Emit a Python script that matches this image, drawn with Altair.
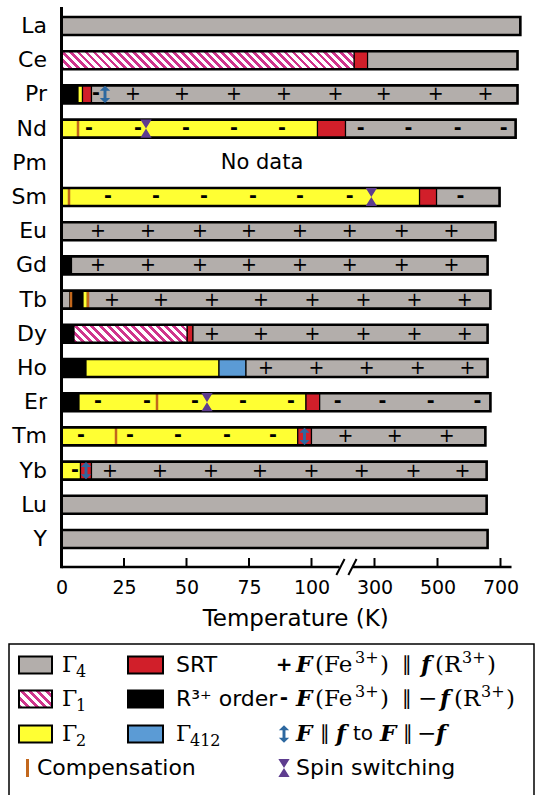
import altair as alt
import pandas as pd

# ---------------- data ----------------
elements = ["La", "Ce", "Pr", "Nd", "Pm", "Sm", "Eu", "Gd", "Tb", "Dy",
            "Ho", "Er", "Tm", "Yb", "Lu", "Y"]

seg_element = ["La",
               "Ce", "Ce", "Ce",
               "Pr", "Pr", "Pr", "Pr",
               "Nd", "Nd", "Nd",
               "Sm", "Sm", "Sm",
               "Eu",
               "Gd", "Gd",
               "Tb", "Tb", "Tb", "Tb",
               "Dy", "Dy", "Dy", "Dy",
               "Ho", "Ho", "Ho", "Ho",
               "Er", "Er", "Er", "Er",
               "Tm", "Tm", "Tm",
               "Yb", "Yb", "Yb",
               "Lu",
               "Y"]
seg_start = [0,
             0, 235, 278,
             0, 6.6, 8.4, 12,
             0, 119, 208,
             0, 443, 497,
             0,
             0, 4,
             0, 3.4, 8.6, 10.4,
             0, 5, 50.2, 52.6,
             0, 9.8, 63, 73.8,
             0, 7, 97.8, 126,
             0, 94.5, 100,
             0, 7.6, 12,
             0,
             0]
seg_end = [763,
           235, 278, 754,
           6.6, 8.4, 12, 754,
           119, 208, 748,
           443, 497, 697,
           684,
           4, 659,
           3.4, 8.6, 10.4, 668,
           5, 50.2, 52.6, 659,
           9.8, 63, 73.8, 659,
           7, 97.8, 126, 668,
           94.5, 100, 652,
           7.6, 12, 656,
           656,
           659]
seg_phase = ["G4",
             "G1", "SRT", "G4",
             "R", "G2", "SRT", "G4",
             "G2", "SRT", "G4",
             "G2", "SRT", "G4",
             "G4",
             "R", "G4",
             "G4", "R", "G2", "G4",
             "R", "G1", "SRT", "G4",
             "R", "G2", "G412", "G4",
             "R", "G2", "SRT", "G4",
             "G2", "SRT", "G4",
             "G2", "SRT", "G4",
             "G4",
             "G4"]

plus_element = (["Pr"] * 8 + ["Eu"] * 8 + ["Gd"] * 8 + ["Tb"] * 8 + ["Dy"] * 6
                + ["Ho"] * 5 + ["Tm"] * 3 + ["Yb"] * 8)
plus_T = ([28.6, 48.2, 69, 89, 176, 329, 494, 652]
          + [14.6, 34.6, 55.4, 75, 95.4, 221, 386, 544]
          + [14.6, 34.6, 55.4, 75, 95.4, 221, 386, 544]
          + [20.2, 39.8, 60.2, 79.8, 103, 265, 427, 586]
          + [60.2, 79.8, 103, 265, 427, 586]
          + [81.8, 116, 275, 437, 595]
          + [208, 364, 529]
          + [19.4, 39.4, 59.8, 79.4, 100, 259, 424, 579])

minus_element = (["Pr"] + ["Nd"] * 9 + ["Sm"] * 7 + ["Er"] * 9 + ["Tm"] * 5 + ["Yb"])
minus_T = ([13.8]
           + [11, 30.6, 49.8, 69, 88.2, 256, 408, 564, 710]
           + [18.6, 37.8, 57, 76.6, 95.4, 221, 573]
           + [14.6, 34.2, 53.4, 72.6, 91.8, 183, 325, 478, 627]
           + [7.8, 27.4, 46.6, 66.2, 84.6]
           + [5.4])

comp_element = ["Nd", "Sm", "Tb", "Tb", "Er", "Tm"]
comp_T = [6.6, 3.0, 3.8, 10.6, 38.2, 21.8]

switch_element = ["Nd", "Sm", "Er"]
switch_T = [33.8, 290, 58.2]

flip_element = ["Pr", "Tm", "Yb"]
flip_T = [17.4, 97.2, 9.8]

tick_values = [0, 25, 50, 75, 100, 300, 500, 700]

phase_codes = ["G4", "G1", "G2", "SRT", "R", "G412"]

# ---------------- style ----------------
SANS = "DejaVu Sans"
SERIF = "DejaVu Serif"
GRAY = "#b3aeab"
YELLOW = "#ffff33"
RED = "#d11f2a"
BLUE = "#5b9bd5"
MAGENTA = "#d0358c"
ORANGE = "#c2671c"
PURPLE = "#5e3d8f"
ARROW = "#2d68a0"
phase_colors = [GRAY, "#ffffff", YELLOW, RED, "#000000", BLUE]

X0, Y0 = 61.5, 8.0          # plot origin in the page
W, H = 467, 559             # plot area
BAR = 18                    # bar thickness
R1, R2, R3 = 250.0, 467.35, 790.0


def xpix(t):
    return t * 2.5 if t <= 100 else 250 + (t - 100) * 0.315


def hatch(w, h, period=8.0, frac=0.48):
    length = w + h
    n = max(1, round(length / period))
    k = (w + h) / (w * w + h * h)
    stops = []
    for i in range(n):
        a, b, c = i / n, (i + frac) / n, (i + 1) / n
        stops += [{"offset": a, "color": MAGENTA}, {"offset": b, "color": MAGENTA},
                  {"offset": b, "color": "#ffffff"}, {"offset": c, "color": "#ffffff"}]
    return {"gradient": "linear", "x1": 0, "y1": 1, "x2": k * w, "y2": 1 - k * h,
            "stops": stops}


xscale = alt.Scale(domain=[0, 100, R3], range=[0, R1, R2], nice=False, zero=False)
xaxis = alt.Axis(values=tick_values, domain=False, ticks=False, grid=False,
                 labelFont=SANS, labelFontSize=19, labelColor="black",
                 labelPadding=11, labelFlush=False, labelOverlap=False,
                 labelBound=False,
                 titleFont=SANS, titleFontSize=23, titleFontWeight="normal",
                 titleColor="black", titlePadding=10)
yscale = alt.Scale(domain=elements, range=[0.9, 548.1], paddingInner=0, paddingOuter=0)
yaxis = alt.Axis(domain=False, ticks=False, grid=False, labelFont=SANS,
                 labelFontSize=22, labelColor="black", labelPadding=15)


def xenc(field):
    return alt.X(f"{field}:Q", scale=xscale, axis=xaxis, title="Temperature (K)")


def yenc():
    return alt.Y("element:N", scale=yscale, axis=yaxis, title=None)


seg_df = pd.DataFrame({"element": seg_element, "start": seg_start,
                       "end": seg_end, "phase": seg_phase})
plus_df = pd.DataFrame({"element": plus_element, "T": plus_T})
minus_df = pd.DataFrame({"element": minus_element, "T": minus_T})
comp_df = pd.DataFrame({"element": comp_element, "T": comp_T})
switch_df = pd.DataFrame({"element": switch_element, "T": switch_T})
flip_df = pd.DataFrame({"element": flip_element, "T": flip_T})
tick_df = pd.DataFrame({"v": tick_values})
one = pd.DataFrame({"k": [0]})

HOURGLASS = "M-0.62,-1L0.62,-1L0,0ZM-0.62,1L0.62,1L0,0Z"
DARROW = ("M0,-1L-0.6,-0.42L-0.17,-0.42L-0.17,0.42L-0.6,0.42L0,1L0.6,0.42"
          "L0.17,0.42L0.17,-0.42L0.6,-0.42Z")

layers = []

# phase segments
layers.append(
    alt.Chart(seg_df).transform_filter(alt.datum.phase != "G1")
    .mark_bar(size=BAR, stroke="black", strokeWidth=1.2)
    .encode(x=xenc("start"), x2="end", y=yenc(),
            fill=alt.Fill("phase:N", scale=alt.Scale(domain=phase_codes, range=phase_colors),
                          legend=None))
)
# hatched Gamma1 segments
for el, a, b in [("Ce", 0, 235), ("Dy", 5, 50.2)]:
    layers.append(
        alt.Chart(seg_df)
        .transform_filter((alt.datum.phase == "G1") & (alt.datum.element == el))
        .mark_bar(size=BAR, stroke="black", strokeWidth=1.2,
                  fill=hatch(xpix(b) - xpix(a), BAR))
        .encode(x=xenc("start"), x2="end", y=yenc())
    )
# compensation
layers.append(
    alt.Chart(comp_df).mark_tick(color=ORANGE, thickness=2.5, size=BAR, opacity=1)
    .encode(x=xenc("T"), y=yenc())
)
# outline of each bar
layers.append(
    alt.Chart(seg_df).transform_aggregate(end="max(end)", groupby=["element"])
    .transform_calculate(start="0")
    .mark_bar(size=BAR, fill="transparent", stroke="black", strokeWidth=2.6)
    .encode(x=xenc("start"), x2="end:Q", y=yenc())
)
# + and - signs
layers.append(
    alt.Chart(plus_df).mark_text(text="+", font=SANS, fontSize=19, color="black",
                                 baseline="middle", dy=0)
    .encode(x=xenc("T"), y=yenc())
)
layers.append(
    alt.Chart(minus_df).mark_text(text="-", font=SANS, fontSize=19, fontWeight="bold",
                                  color="black", baseline="middle", dy=-1)
    .encode(x=xenc("T"), y=yenc())
)
# spin switching and sign flips
layers.append(
    alt.Chart(switch_df).mark_point(shape=HOURGLASS, filled=True, size=330,
                                    color=PURPLE, opacity=1, strokeWidth=0)
    .encode(x=xenc("T"), y=yenc())
)
layers.append(
    alt.Chart(flip_df).mark_point(shape=DARROW, filled=True, size=300,
                                  color=ARROW, opacity=1, strokeWidth=0)
    .encode(x=xenc("T"), y=yenc())
)
# No data
layers.append(
    alt.Chart(pd.DataFrame({"element": ["Pm"], "label": ["No data"]}))
    .mark_text(font=SANS, fontSize=21, align="center", baseline="middle", color="black")
    .encode(x=alt.value(262 - X0), y=yenc(), text="label:N")
)
# custom axis lines with a break
layers.append(
    alt.Chart(pd.DataFrame({"a": [0, 230], "b": [189, 735]}))
    .mark_rule(color="black", strokeWidth=2.6)
    .encode(x=xenc("a"), x2="b:Q", y=alt.value(H))
)
layers.append(
    alt.Chart(pd.DataFrame({"a": [179, 217], "b": [205, 243]}))
    .mark_rule(color="black", strokeWidth=2)
    .encode(x=xenc("a"), x2="b:Q", y=alt.value(H + 8), y2=alt.value(H - 8))
)
layers.append(
    alt.Chart(tick_df).mark_rule(color="black", strokeWidth=2)
    .encode(x=xenc("v"), y=alt.value(H), y2=alt.value(H - 9))
)
layers.append(
    alt.Chart(one).mark_rule(color="black", strokeWidth=3)
    .encode(x=alt.value(0), y=alt.value(-1), y2=alt.value(H + 1.3))
)


# ---------------- legend ----------------
def lrect(x1, y1, x2, y2, **kw):
    return alt.Chart(one).mark_rect(**kw).encode(
        x=alt.value(x1 - X0), x2=alt.value(x2 - X0),
        y=alt.value(y1 - Y0), y2=alt.value(y2 - Y0))


def ltext(s, x, y, font=SANS, size=22, align="left", **kw):
    return alt.Chart(one).mark_text(font=font, fontSize=size, align=align,
                                    baseline="middle", color="black", **kw).encode(
        x=alt.value(x - X0), y=alt.value(y - Y0), text=alt.value(s))


def lsym(shape, x, y, size, color):
    return alt.Chart(one).mark_point(shape=shape, filled=True, size=size, color=color,
                                     opacity=1, strokeWidth=0).encode(
        x=alt.value(x - X0), y=alt.value(y - Y0))


def gamma(sub, x, y):
    return [ltext("Γ", x, y, font=SERIF, size=22),
            ltext(sub, x + 14, y + 7, font=SERIF, size=16)]


def math(pieces, y, x0):
    out = []
    for s, kind, dx in pieces:
        x = x0 + dx
        if kind == "bi":
            out.append(ltext(s, x, y, font=SERIF, size=23, fontStyle="italic",
                             fontWeight="bold"))
        elif kind == "sup":
            out.append(ltext(s, x, y - 7, font=SERIF, size=16))
        elif kind == "sans":
            out.append(ltext(s, x, y, font=SANS, size=20))
        else:
            out.append(ltext(s, x, y, font=SERIF, size=23))
    return out


ry = [665, 699, 734, 768]
C3S, C3T = 284, 296
sw = dict(stroke="black", strokeWidth=2)
leg = [lrect(9, 644, 534, 800, fill="transparent", stroke="black", strokeWidth=1.5)]
leg.append(lrect(19, ry[0] - 8.5, 52, ry[0] + 8.5, fill=GRAY, **sw))
leg.append(lrect(19, ry[1] - 8.5, 52, ry[1] + 8.5, fill=hatch(33, 17), **sw))
leg.append(lrect(19, ry[2] - 8.5, 52, ry[2] + 8.5, fill=YELLOW, **sw))
leg += gamma("4", 62, ry[0]) + gamma("1", 62, ry[1]) + gamma("2", 62, ry[2])
leg.append(lrect(128, ry[0] - 8.5, 163, ry[0] + 8.5, fill=RED, **sw))
leg.append(lrect(128, ry[1] - 8.5, 163, ry[1] + 8.5, fill="black", **sw))
leg.append(lrect(128, ry[2] - 8.5, 163, ry[2] + 8.5, fill=BLUE, **sw))
leg.append(ltext("SRT", 176, ry[0]))
leg.append(ltext("R³⁺ order", 176, ry[1]))
leg += gamma("412", 176, ry[2])
leg.append(lrect(26, ry[3] - 9, 29, ry[3] + 9, fill=ORANGE))
leg.append(ltext("Compensation", 37, ry[3]))
leg.append(ltext("+", C3S, ry[0], size=20, align="center", fontWeight="bold"))
leg.append(ltext("-", C3S, ry[1] - 1, size=20, align="center", fontWeight="bold"))
leg.append(lsym(DARROW, C3S, ry[2], 300, ARROW))
leg.append(lsym(HOURGLASS, C3S, ry[3], 330, PURPLE))
leg.append(ltext("Spin switching", C3T, ry[3]))
leg += math([("F", "bi", 0), ("(Fe", "r", 19), ("3+", "sup", 59), (")", "r", 84),
             ("∥", "sans", 106), ("f", "bi", 125), ("(R", "r", 139), ("3+", "sup", 166),
             (")", "r", 191)], ry[0], C3T)
leg += math([("F", "bi", 0), ("(Fe", "r", 19), ("3+", "sup", 59), (")", "r", 84),
             ("∥", "sans", 106), ("−", "r", 122), ("f", "bi", 144), ("(R", "r", 158),
             ("3+", "sup", 185), (")", "r", 210)], ry[1], C3T)
leg += math([("F", "bi", 0), ("∥", "sans", 24), ("f", "bi", 40), ("to", "sans", 57),
             ("F", "bi", 84), ("∥", "sans", 107), ("−", "r", 121), ("f", "bi", 140)],
            ry[2], C3T)

chart = alt.layer(*layers, *leg).properties(
    width=W, height=H,
    autosize=alt.AutoSizeParams(type="none"),
    padding={"left": X0, "top": Y0, "right": 537 - X0 - W, "bottom": 795 - Y0 - H},
    background="white",
).configure_view(stroke=None)

chart.save("out.html", embed_options={"renderer": "svg", "actions": False})
